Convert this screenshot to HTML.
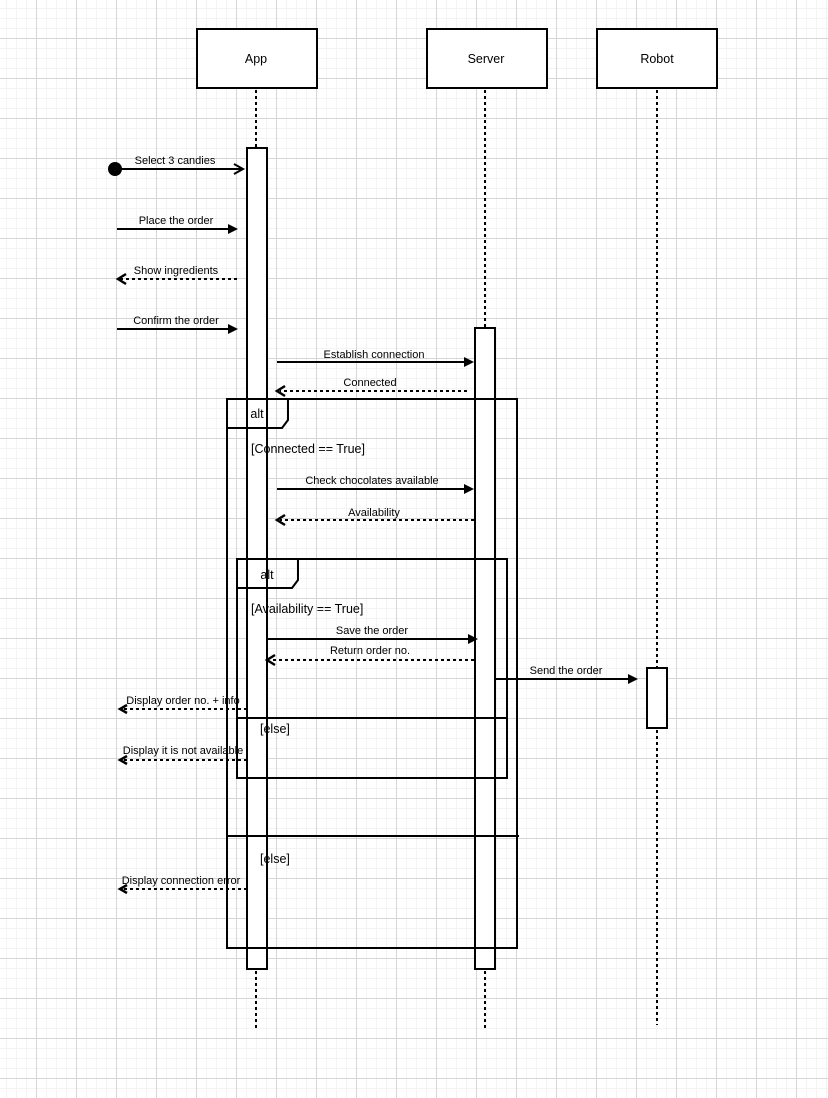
<!DOCTYPE html>
<html><head><meta charset="utf-8"><style>
html,body{margin:0;padding:0;background:#fff;}
svg{display:block;}
text{font-family:"Liberation Sans",Arial,sans-serif;fill:#000;}
</style></head><body>
<svg width="828" height="1098" viewBox="0 0 828 1098" xmlns="http://www.w3.org/2000/svg">
<defs>
<pattern id="minor" width="10" height="10" patternUnits="userSpaceOnUse" x="6" y="8">
<path d="M0 0.5H10M0.5 0V10" stroke="#f3f3f3" stroke-width="1" fill="none"/>
</pattern>
<pattern id="major" width="40" height="40" patternUnits="userSpaceOnUse" x="36" y="38">
<path d="M0 0.5H40M0.5 0V40" stroke="#d6d6d6" stroke-width="1" fill="none"/>
</pattern>
</defs>
<rect width="828" height="1098" fill="url(#minor)"/>
<rect width="828" height="1098" fill="url(#major)"/>

<g stroke="#000" stroke-width="2" fill="#fff">
<rect x="197" y="29" width="120" height="59"/>
<rect x="427" y="29" width="120" height="59"/>
<rect x="597" y="29" width="120" height="59"/>
</g>
<g font-size="12.5" text-anchor="middle">
<text x="256" y="63">App</text>
<text x="486" y="63">Server</text>
<text x="657" y="63">Robot</text>
</g>

<g stroke="#000" stroke-width="2" stroke-dasharray="3,3" fill="none">
<line x1="256" y1="90" x2="256" y2="148"/>
<line x1="256" y1="971" x2="256" y2="1028"/>
<line x1="485" y1="90" x2="485" y2="328"/>
<line x1="485" y1="971" x2="485" y2="1028"/>
<line x1="657" y1="90" x2="657" y2="668"/>
<line x1="657" y1="730" x2="657" y2="1025"/>
</g>

<g fill="#fff" stroke="none">
<rect x="247" y="148" width="20" height="821"/>
<rect x="475" y="328" width="20" height="641"/>
<rect x="647" y="668" width="20" height="60"/>
</g>

<g stroke="#000" stroke-width="2" fill="none">
<rect x="227" y="399" width="290" height="549"/>
<path d="M227 428H282L288 420V399"/>
<line x1="227" y1="836" x2="519" y2="836"/>
<rect x="237" y="559" width="270" height="219"/>
<path d="M237 588H292L298 580V559"/>
<line x1="237" y1="718" x2="507" y2="718"/>
</g>
<g font-size="12.5" text-anchor="middle">
<text x="257" y="418">alt</text>
<text x="267" y="579">alt</text>
</g>
<g font-size="12.5">
<text x="251" y="453">[Connected == True]</text>
<text x="251" y="613">[Availability == True]</text>
<text x="260" y="733">[else]</text>
<text x="260" y="863">[else]</text>
</g>

<g stroke="#000" stroke-width="2" fill="none">
<rect x="247" y="148" width="20" height="821"/>
<rect x="475" y="328" width="20" height="641"/>
<rect x="647" y="668" width="20" height="60"/>
</g>

<circle cx="115" cy="169" r="7" fill="#000"/>
<g stroke="#000" stroke-width="2" fill="none">
<line x1="115" y1="169" x2="243" y2="169"/>
<path d="M234 164L243 169L234 174"/>
<line x1="117" y1="229" x2="230" y2="229"/>
<line x1="117" y1="329" x2="230" y2="329"/>
<line x1="277" y1="362" x2="466" y2="362"/>
<line x1="277" y1="489" x2="466" y2="489"/>
<line x1="267" y1="639" x2="470" y2="639"/>
<line x1="495" y1="679" x2="630" y2="679"/>
</g>
<g fill="#000">
<path d="M228 224L238 229L228 234Z"/>
<path d="M228 324L238 329L228 334Z"/>
<path d="M464 357L474 362L464 367Z"/>
<path d="M464 484L474 489L464 494Z"/>
<path d="M468 634L478 639L468 644Z"/>
<path d="M628 674L638 679L628 684Z"/>
</g>
<g stroke="#000" stroke-width="2" fill="none" stroke-dasharray="3,3">
<line x1="237" y1="279" x2="120" y2="279"/>
<line x1="467" y1="391" x2="280" y2="391"/>
<line x1="474" y1="520" x2="280" y2="520"/>
<line x1="474" y1="660" x2="270" y2="660"/>
<line x1="247" y1="709" x2="122" y2="709"/>
<line x1="247" y1="760" x2="122" y2="760"/>
<line x1="247" y1="889" x2="122" y2="889"/>
</g>
<g stroke="#000" stroke-width="2.5" fill="none">
<path d="M126 274L118 279L126 284"/>
<path d="M285 386L277 391L285 396"/>
<path d="M285 515L277 520L285 525"/>
<path d="M275 655L267 660L275 665"/>
<path d="M127 705L120 709L127 713"/>
<path d="M127 756L120 760L127 764"/>
<path d="M127 885L120 889L127 893"/>
</g>
<g font-size="11" text-anchor="middle">
<text x="175" y="164">Select 3 candies</text>
<text x="176" y="224">Place the order</text>
<text x="176" y="274">Show ingredients</text>
<text x="176" y="324">Confirm the order</text>
<text x="374" y="358">Establish connection</text>
<text x="370" y="386">Connected</text>
<text x="372" y="484">Check chocolates available</text>
<text x="374" y="516">Availability</text>
<text x="372" y="634">Save the order</text>
<text x="370" y="654">Return order no.</text>
<text x="566" y="674">Send the order</text>
<text x="183" y="704">Display order no. + info</text>
<text x="183" y="754">Display it is not available</text>
<text x="181" y="884">Display connection error</text>
</g>
</svg>
</body></html>
